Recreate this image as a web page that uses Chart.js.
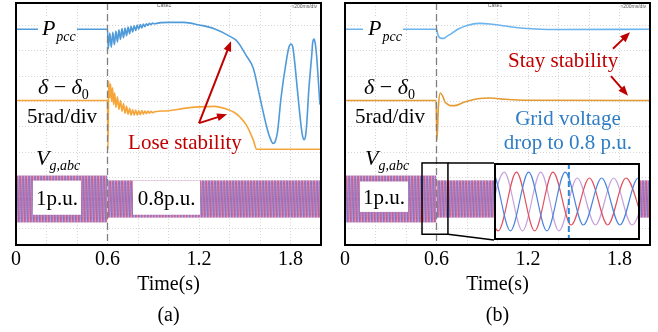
<!DOCTYPE html>
<html>
<head>
<meta charset="utf-8">
<script src="https://cdn.jsdelivr.net/npm/chart.js@4.4.0/dist/chart.umd.min.js"></script>
<style>
  html, body { margin: 0; padding: 0; background: #fff; }
  #wrap { position: relative; width: 658px; height: 332px; overflow: hidden; }
  .pane { position: absolute; top: 0; width: 329px; height: 332px; }
  #inset { position: absolute; left: 494px; top: 163px; width: 146px; height: 77px; }
</style>
</head>
<body>
<div id="wrap">
  <div class="pane" style="left:0"><canvas id="ca" width="329" height="332"></canvas></div>
  <div class="pane" style="left:329px"><canvas id="cb" width="329" height="332"></canvas></div>
  <div id="inset"><canvas id="ci" width="146" height="77"></canvas></div>
</div>
<script>
"use strict";

const FONT = "'Liberation Serif','Times New Roman',Times,serif";

// time axis (s): scope grid every 200 ms, labels every 0.6 s
const gridTimes = [0, 0.2, 0.4, 0.6, 0.8, 1.0, 1.2, 1.4, 1.6, 1.8, 2.0];
const xTickLabels = [0, 0.6, 1.2, 1.8];
const tSag = 0.6;

// scope channel offsets (div) and voltage gain (div per p.u.)
const pccOffset = 8.85;
const dltOffset = 6.04;
const vgOffset = 2.16;
const vgGain = 0.94;

// grid voltage amplitude (p.u.) between the given instants
const vgLevelT = [0, 0.6, 2.0];
const vgLevelPu = [1.0, 0.8];

// (a) P_pcc deviation from pre-sag level (div)
const pccA_t = [0, 0.6, 0.605, 0.615, 0.625, 0.635, 0.645, 0.655, 0.665, 0.675, 0.685, 0.695,
  0.705, 0.715, 0.725, 0.735, 0.745, 0.755, 0.765, 0.775, 0.785, 0.795, 0.805, 0.815, 0.825,
  0.835, 0.845, 0.855, 0.865, 0.875, 0.885, 0.895, 0.905, 0.95, 1.0, 1.1, 1.2, 1.3, 1.4, 1.45,
  1.51, 1.556, 1.6, 1.644, 1.665, 1.686, 1.70, 1.715, 1.738, 1.775, 1.79, 1.803, 1.815, 1.825,
  1.847, 1.87, 1.88, 1.889, 1.898, 1.905, 1.921, 1.94, 1.945, 1.954, 1.962, 1.97, 1.993];
const pccA_d = [0, 0, -0.77, -0.15, -0.71, -0.12, -0.61, -0.07, -0.50, -0.02, -0.40, 0.03,
  -0.33, 0.05, -0.25, 0.09, -0.18, 0.12, -0.11, 0.14, -0.05, 0.17, 0.0, 0.19, 0.05,
  0.21, 0.10, 0.22, 0.15, 0.23, 0.18, 0.24, 0.22, 0.26, 0.27, 0.27, 0.17, 0.02, -0.27, -0.47,
  -1.04, -1.54, -2.70, -3.85, -4.27, -4.50, -4.42, -4.04, -2.70, -1.16, -0.70, -0.58, -0.70, -1.16,
  -2.50, -3.85, -4.23, -4.35, -4.23, -3.85, -2.31, -0.97, -0.55, -0.39, -0.55, -0.97, -2.97];

// (a) delta - delta0 deviation (div)
const dltA_t = [0, 0.6, 0.603, 0.608, 0.615, 0.62, 0.627, 0.633, 0.64, 0.647, 0.655, 0.665,
  0.675, 0.685, 0.695, 0.705, 0.715, 0.725, 0.735, 0.745, 0.755, 0.765, 0.775, 0.785, 0.795,
  0.805, 0.815, 0.825, 0.835, 0.845, 0.855, 0.865, 0.875, 0.885, 0.895, 0.91, 1.0, 1.1, 1.2,
  1.3, 1.38, 1.43, 1.47, 1.51, 1.555, 1.578, 2.0];
const dltA_d = [0, 0, -1.92, 0.77, 0.11, 0.65, -0.04, 0.50, -0.16, 0.31, -0.27, 0.15,
  -0.35, 0.0, -0.42, -0.12, -0.50, -0.23, -0.54, -0.31, -0.58, -0.35, -0.58, -0.37, -0.58,
  -0.39, -0.56, -0.39, -0.54, -0.41, -0.52, -0.41, -0.50, -0.42, -0.48, -0.44, -0.40, -0.31, -0.25,
  -0.23, -0.33, -0.46, -0.66, -0.96, -1.54, -1.92, -1.92];

// (b) P_pcc deviation (div)
const pccB_t = [0, 0.6, 0.61, 0.625, 0.645, 0.67, 0.7, 0.74, 0.8, 0.88, 0.95, 1.05, 1.15, 1.25, 1.4, 2.0];
const pccB_d = [0, 0, -0.23, -0.35, -0.36, -0.27, -0.16, 0, 0.15, 0.23, 0.21, 0.13, 0.05, 0.01, -0.01, 0];

// (b) delta - delta0 deviation (div)
const dltB_t = [0, 0.597, 0.603, 0.612, 0.625, 0.64, 0.655, 0.67, 0.69, 0.72, 0.78, 0.87, 0.95, 1.05, 1.2, 2.0];
const dltB_d = [0, 0, -1.55, -0.28, 0.30, 0.18, -0.05, -0.13, -0.20, -0.20, -0.07, 0.07, 0.10, 0.05, 0.01, 0];

// zoomed three-phase voltages around the sag: extrema (s, p.u.)
const zoomRange = [0.559, 0.639];
const phA_t = [0.5546, 0.5646, 0.5746, 0.5846, 0.5946, 0.6046, 0.6146, 0.6246, 0.6346, 0.6446];
const phA_pu = [-1, 1, -1, 1, -1, 0.8, -0.8, 0.8, -0.8, 0.8];
const phB_t = [0.5513, 0.5613, 0.5713, 0.5813, 0.5913, 0.6013, 0.6113, 0.6213, 0.6313, 0.6413];
const phB_pu = [1, -1, 1, -1, 1, -0.8, 0.8, -0.8, 0.8, -0.8];
const phC_t = [0.548, 0.558, 0.568, 0.578, 0.588, 0.598, 0.608, 0.618, 0.628, 0.638, 0.648];
const phC_pu = [-1, 1, -1, 1, -1, 1, -0.8, 0.8, -0.8, 0.8, -0.8];

const RED = "#c00000";

// ---------- helpers ----------
// dense 50 Hz three-phase texture used to fill the voltage envelope
const patCache = {};
function wavePattern(chart, a) {
  const area = chart.chartArea, sy = chart.scales && chart.scales.y;
  if (!area || !sy) return "rgba(140,100,190,0.8)";
  const key = chart.id + ":" + a;
  if (patCache[key]) return patCache[key];
  const top = sy.getPixelForValue(vgOffset + a * vgGain);
  const bot = sy.getPixelForValue(vgOffset - a * vgGain);
  const h = Math.max(2, Math.round(bot - top)), w = 6, per = 3;
  const c = document.createElement("canvas");
  c.width = w; c.height = h;
  const g = c.getContext("2d");
  g.fillStyle = "#f6e3f0";
  g.fillRect(0, 0, w, h);
  [["#f0a6d2", 0.8], ["#df3552", 0.6], ["#4a5ccf", 0.6]].forEach(([col, lw], k) => {
    g.strokeStyle = col; g.lineWidth = lw; g.beginPath();
    let first = true;
    for (let x = -1; x <= w + 1; x += 0.05) {
      const y = h / 2 - (h / 2 - 0.6) * Math.sin(2 * Math.PI * x / per + k * 2 * Math.PI / 3);
      if (first) { g.moveTo(x, y); first = false; } else g.lineTo(x, y);
    }
    g.stroke();
  });
  const p = chart.ctx.createPattern(c, "repeat");
  p.setTransform(new DOMMatrix().translate(0, Math.round(top)));
  return (patCache[key] = p);
}

function trace(ts, ds, off, color, w) {
  return {
    data: ts.map((t, i) => ({ x: t, y: off + ds[i] })),
    borderColor: color, borderWidth: w, pointRadius: 0, fill: false,
    cubicInterpolationMode: "monotone"
  };
}

function bandSets() {
  const sets = [];
  for (let i = 0; i < vgLevelPu.length; i++) {
    const a = vgLevelPu[i], t0 = vgLevelT[i], t1 = vgLevelT[i + 1];
    sets.push({
      data: [{ x: t0, y: vgOffset + a * vgGain }, { x: t1, y: vgOffset + a * vgGain }],
      borderColor: "rgba(0,0,0,0)", borderWidth: 0, pointRadius: 0,
      fill: "+1", backgroundColor: (c) => wavePattern(c.chart, a)
    });
    sets.push({
      data: [{ x: t0, y: vgOffset - a * vgGain }, { x: t1, y: vgOffset - a * vgGain }],
      borderColor: "rgba(0,0,0,0)", borderWidth: 0, pointRadius: 0, fill: false
    });
  }
  return sets;
}

function text(ctx, s, x, y, size, color, style, align) {
  ctx.font = (style || "") + " " + size + "px " + FONT;
  ctx.fillStyle = color;
  ctx.textAlign = align || "left";
  ctx.textBaseline = "alphabetic";
  ctx.fillText(s, x, y);
  return ctx.measureText(s).width;
}

function arrow(ctx, x0, y0, x1, y1) {
  const ang = Math.atan2(y1 - y0, x1 - x0), L = 10, W = 4;
  ctx.strokeStyle = RED; ctx.fillStyle = RED; ctx.lineWidth = 2;
  ctx.beginPath(); ctx.moveTo(x0, y0);
  ctx.lineTo(x1 - L * 0.8 * Math.cos(ang), y1 - L * 0.8 * Math.sin(ang)); ctx.stroke();
  ctx.beginPath(); ctx.moveTo(x1, y1);
  ctx.lineTo(x1 - L * Math.cos(ang) + W * Math.sin(ang), y1 - L * Math.sin(ang) - W * Math.cos(ang));
  ctx.lineTo(x1 - L * Math.cos(ang) - W * Math.sin(ang), y1 - L * Math.sin(ang) + W * Math.cos(ang));
  ctx.closePath(); ctx.fill();
}

function puBox(ctx, px, py, t0, t1, v0, v1, s) {
  const x0 = px(t0), x1 = px(t1), y0 = py(v0), y1 = py(v1);
  ctx.fillStyle = "#fff";
  ctx.fillRect(x0, y0, x1 - x0, y1 - y0);
  text(ctx, s, (x0 + x1) / 2, (y0 + y1) / 2 + 7, 21, "#000", "", "center");
}

// channel names written on the left of each panel
function channelLabels(ctx, px, py, o) {
  const yP = py(pccOffset);
  ctx.fillStyle = "#fff";
  ctx.fillRect(px(o.pBox[0]), yP - 12, px(o.pBox[1]) - px(o.pBox[0]), 24);
  let w = text(ctx, "P", px(o.pX), yP + 6, 22, "#000", "italic");
  text(ctx, "pcc", px(o.pX) + w + 1, yP + 12, 14, "#000", "italic");

  const yd = py(6.31);
  let x = px(o.dX);
  x += text(ctx, "\u03b4", x, yd, 22, "#000", "italic");
  x += text(ctx, " \u2212 ", x, yd, 22, "#000", "");
  x += text(ctx, "\u03b4", x, yd, 22, "#000", "italic");
  text(ctx, "0", x, yd + 5, 14, "#000", "");

  text(ctx, "5rad/div", px(o.rX), py(5.15), 21, "#000", "");

  const yv = py(3.5);
  w = text(ctx, "V", px(o.vX), yv, 22, "#000", "italic");
  text(ctx, "g,abc", px(o.vX) + w, yv + 5, 14, "#000", "italic");
}

function header(ctx, a, left) {
  ctx.font = "5px 'Liberation Sans', Arial, sans-serif";
  ctx.fillStyle = "#555";
  ctx.textBaseline = "middle";
  ctx.textAlign = "center";
  ctx.fillText("Case1", a.left + left, a.top + 3);
  ctx.textAlign = "right";
  ctx.fillText("\u2248200ms/div", a.right - 4, a.top + 4);
}

function notesA(ctx, px, py, a) {
  header(ctx, a, 148);
  channelLabels(ctx, px, py, { pBox: [0.144, 0.40], pX: 0.17, dX: 0.144, rX: 0.072, vX: 0.131 });
  puBox(ctx, px, py, 0.111, 0.426, 2.885, 1.538, "1p.u.");
  puBox(ctx, px, py, 0.767, 1.207, 2.885, 1.538, "0.8p.u.");
  text(ctx, "Lose stability", px(1.108), py(4.12), 21, RED, "", "center");
  arrow(ctx, px(1.2), py(5.15), px(1.41), py(8.38));
  arrow(ctx, px(1.2), py(5.15), px(1.384), py(5.5));
}

function notesB(ctx, px, py, a) {
  header(ctx, a, 150);
  channelLabels(ctx, px, py, { pBox: [0.118, 0.38], pX: 0.151, dX: 0.125, rX: 0.066, vX: 0.131 });
  puBox(ctx, px, py, 0.098, 0.413, 2.85, 1.65, "1p.u.");
  text(ctx, "Stay stability", px(1.43), py(7.38), 21, RED, "", "center");
  arrow(ctx, px(1.757), py(8.08), px(1.869), py(8.73));
  arrow(ctx, px(1.744), py(7.0), px(1.856), py(6.23));
  text(ctx, "Grid voltage", px(1.462), py(5.08), 21, "#2e7dc5", "", "center");
  text(ctx, "drop to 0.8 p.u.", px(1.462), py(4.12), 21, "#2e7dc5", "", "center");

  // window that is magnified in the inset, and its leader lines
  const x0 = px(0.505), x1 = px(0.675), y0 = py(3.58), y1 = py(0.77);
  ctx.strokeStyle = "#000"; ctx.lineWidth = 1.5;
  ctx.strokeRect(x0, y0, x1 - x0, y1 - y0);
  const ins = document.getElementById("inset");
  const ix = ins.offsetLeft - ctx.canvas.parentNode.offsetLeft;
  const iy0 = ins.offsetTop, iy1 = ins.offsetTop + ins.offsetHeight;
  ctx.beginPath();
  ctx.moveTo(x1, y0); ctx.lineTo(ix, iy0);
  ctx.moveTo(x1, y1); ctx.lineTo(ix, iy1);
  ctx.stroke();
}

function framePlugin(notes) {
  return {
    id: "frame",
    afterDatasetsDraw(chart) {
      const { ctx, chartArea: a, scales: { x, y } } = chart;
      const px = (t) => x.getPixelForValue(t), py = (v) => y.getPixelForValue(v);
      ctx.save();
      ctx.strokeStyle = "#808080"; ctx.lineWidth = 1.3; ctx.setLineDash([7, 4]);
      ctx.beginPath(); ctx.moveTo(px(tSag), a.top); ctx.lineTo(px(tSag), a.bottom); ctx.stroke();
      ctx.setLineDash([]);
      notes(ctx, px, py, a);
      ctx.strokeStyle = "#000"; ctx.lineWidth = 2;
      ctx.strokeRect(a.left, a.top, a.right - a.left, a.bottom - a.top);
      ctx.restore();
    }
  };
}

function panelOptions(tag) {
  return {
    responsive: false, animation: false, events: [],
    layout: { padding: { left: 16, right: 8, top: 3, bottom: 0 } },
    plugins: {
      legend: { display: false }, tooltip: { enabled: false },
      title: {
        display: true, text: tag, position: "bottom", color: "#000",
        font: { family: FONT, size: 20, weight: "normal", lineHeight: 1 },
        padding: { top: 11, bottom: 6 }
      }
    },
    scales: {
      x: {
        type: "linear", min: 0, max: 2,
        afterBuildTicks: (s) => { s.ticks = gridTimes.map((v) => ({ value: v })); },
        ticks: {
          autoSkip: false, maxRotation: 0, padding: 6, color: "#000",
          font: { family: FONT, size: 20, lineHeight: 0.9 },
          callback: (v) => (xTickLabels.some((l) => Math.abs(l - v) < 1e-6) ? String(v) : "")
        },
        grid: { color: "#d6d6d6", lineWidth: 1, drawTicks: false },
        border: { display: false, dash: [1, 2] },
        title: {
          display: true, text: "Time(s)", color: "#000",
          font: { family: FONT, size: 20, lineHeight: 1 }, padding: { top: 0, bottom: 0 }
        }
      },
      y: {
        min: 0.346, max: 9.885,
        ticks: { display: false, stepSize: 1 },
        grid: { color: "#d6d6d6", lineWidth: 1, drawTicks: false },
        border: { display: false, dash: [1, 2] }
      }
    }
  };
}

// ---------- panel (a): unstable case ----------
new Chart(document.getElementById("ca"), {
  type: "line",
  data: {
    datasets: [
      trace(pccA_t, pccA_d, pccOffset, "#4f9bd9", 1.6),
      trace(dltA_t, dltA_d, dltOffset, "#f5a53a", 1.6),
      ...bandSets()
    ]
  },
  options: panelOptions("(a)"),
  plugins: [framePlugin(notesA)]
});

// ---------- panel (b): stable case ----------
new Chart(document.getElementById("cb"), {
  type: "line",
  data: {
    datasets: [
      trace(pccB_t, pccB_d, pccOffset, "#6cb4ee", 1.6),
      trace(dltB_t, dltB_d, dltOffset, "#e39a35", 1.6),
      ...bandSets()
    ]
  },
  options: panelOptions("(b)"),
  plugins: [framePlugin(notesB)]
});

// ---------- inset: three-phase voltages across the sag ----------
function phase(ts, vs, color) {
  return {
    data: ts.map((t, i) => ({ x: t, y: vs[i] })),
    borderColor: color, borderWidth: 1.2, pointRadius: 0, fill: false,
    cubicInterpolationMode: "monotone"
  };
}

new Chart(document.getElementById("ci"), {
  type: "line",
  data: {
    datasets: [
      phase(phC_t, phC_pu, "#4b84dc"),
      phase(phB_t, phB_pu, "#e0505f"),
      phase(phA_t, phA_pu, "#c6a2dc")
    ]
  },
  options: {
    responsive: false, animation: false, events: [],
    layout: { padding: 0 },
    plugins: { legend: { display: false }, tooltip: { enabled: false } },
    scales: {
      x: { type: "linear", display: false, min: zoomRange[0], max: zoomRange[1] },
      y: { display: false, min: -1.31, max: 1.31 }
    }
  },
  plugins: [{
    id: "insetFrame",
    beforeDraw(chart) {
      const { ctx, width, height } = chart;
      ctx.save(); ctx.fillStyle = "#fff"; ctx.fillRect(0, 0, width, height); ctx.restore();
    },
    afterDatasetsDraw(chart) {
      const { ctx, width, height, scales: { x } } = chart;
      ctx.save();
      ctx.strokeStyle = "#2f86d6"; ctx.lineWidth = 2; ctx.setLineDash([6, 3]);
      const xs = x.getPixelForValue(tSag);
      ctx.beginPath(); ctx.moveTo(xs, 0); ctx.lineTo(xs, height); ctx.stroke();
      ctx.setLineDash([]);
      ctx.strokeStyle = "#000"; ctx.lineWidth = 2;
      ctx.strokeRect(1, 1, width - 2, height - 2);
      ctx.restore();
    }
  }]
});
</script>
</body>
</html>
